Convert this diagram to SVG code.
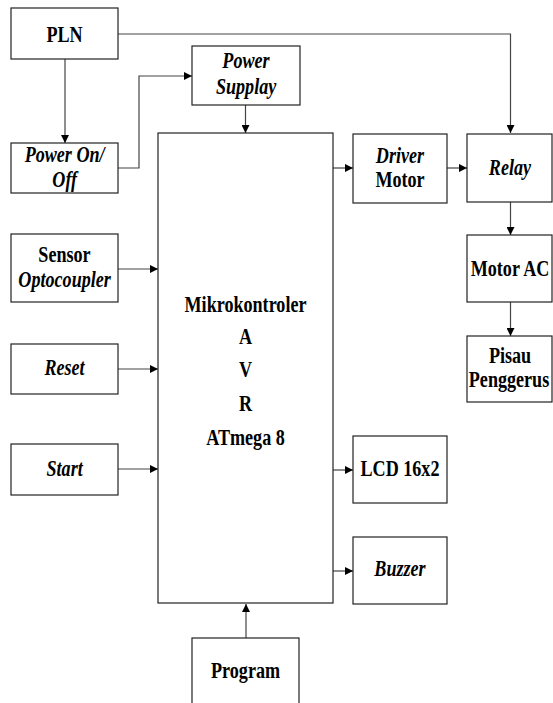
<svg xmlns="http://www.w3.org/2000/svg" width="553" height="703" viewBox="0 0 553 703">
<style>
rect{fill:#fff;stroke:#222;stroke-width:1.2}
text{font-family:"Liberation Serif","Times New Roman",serif;font-weight:bold;font-size:23.5px;text-anchor:middle;fill:#000;transform:scaleX(0.77);transform-box:fill-box;transform-origin:center}
.i{font-style:italic}
#connectors path{fill:none;stroke:#444;stroke-width:1.2;marker-end:url(#arr)}
</style>
<defs>
<marker id="arr" viewBox="0 0 10 10" refX="10" refY="5" markerWidth="9" markerHeight="8" markerUnits="userSpaceOnUse" orient="auto"><path d="M0,0L10,5L0,10z" fill="#000"/></marker>
</defs>
<rect x="0" y="0" width="553" height="703" style="fill:#fff;stroke:none"/>
<g id="connectors">
<path d="M65,59V143"/>
<path d="M118,34H510.5V133"/>
<path d="M118,168H139V76H192"/>
<path d="M245.5,105V133"/>
<path d="M333,168H353"/>
<path d="M447,168H467"/>
<path d="M510.5,202V235"/>
<path d="M510.5,302V336"/>
<path d="M118,269H158"/>
<path d="M118,369H158"/>
<path d="M118,469H158"/>
<path d="M333,470H353"/>
<path d="M333,571H353"/>
<path d="M246,638V604"/>
</g>
<g id="pln"><rect x="11" y="8" width="107" height="51"/><text x="64.5" y="42">PLN</text></g>
<g id="power-onoff"><rect x="11" y="143" width="107" height="50"/><text class="i" x="64.5" y="162">Power On/</text><text class="i" x="64.5" y="187">Off</text></g>
<g id="power-supply"><rect x="192" y="46" width="108" height="59"/><text class="i" x="246" y="68">Power</text><text class="i" x="246" y="94">Supplay</text></g>
<g id="mikrokontroler"><rect x="158" y="133" width="175" height="470"/>
<text x="245.5" y="312">Mikrokontroler</text><text x="245.5" y="344">A</text><text x="245.5" y="377">V</text><text x="245.5" y="411">R</text><text x="245.5" y="445">ATmega 8</text></g>
<g id="driver-motor"><rect x="353" y="134" width="94" height="69"/><text class="i" x="400" y="163">Driver</text><text x="400" y="187">Motor</text></g>
<g id="relay"><rect x="467" y="134" width="85" height="68"/><text class="i" x="510" y="175">Relay</text></g>
<g id="motor-ac"><rect x="467" y="235" width="85" height="67"/><text x="510" y="276">Motor AC</text></g>
<g id="pisau"><rect x="467" y="336" width="85" height="66"/><text x="510" y="363">Pisau</text><text x="509" y="387">Penggerus</text></g>
<g id="sensor"><rect x="11" y="234" width="107" height="68"/><text x="64.5" y="262">Sensor</text><text class="i" x="64.5" y="287">Optocoupler</text></g>
<g id="reset"><rect x="11" y="344" width="107" height="50"/><text class="i" x="64.5" y="375">Reset</text></g>
<g id="start"><rect x="11" y="444" width="107" height="51"/><text class="i" x="64.5" y="476">Start</text></g>
<g id="lcd"><rect x="353" y="436" width="94" height="67"/><text x="400" y="476">LCD 16x2</text></g>
<g id="buzzer"><rect x="353" y="537" width="94" height="67"/><text class="i" x="400" y="576">Buzzer</text></g>
<g id="program"><rect x="192" y="638" width="107" height="75"/><text x="245.5" y="678">Program</text></g>
</svg>
